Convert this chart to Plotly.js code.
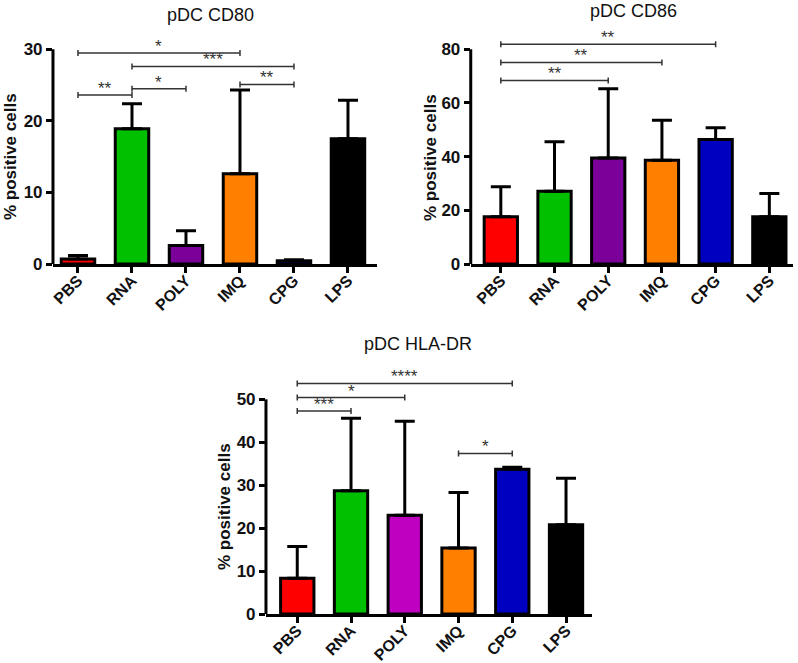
<!DOCTYPE html>
<html>
<head>
<meta charset="utf-8">
<script src="https://cdn.plot.ly/plotly-3.0.1.min.js"></script>
<style>html,body{margin:0;padding:0;background:#fff;}#chart{width:798px;height:663px;}</style>
</head>
<body>
<div id="chart"></div>
<script>
// ---- data ----
var categories = ['PBS', 'RNA', 'POLY', 'IMQ', 'CPG', 'LPS'];

var cd80Values = [0.7, 18.9, 2.6, 12.6, 0.45, 17.5];
var cd80Errors = [0.5, 3.5, 2.05, 11.7, 0.15, 5.4];
var cd80Colors = ['#ff0000', '#00c000', '#7b0099', '#ff8000', '#0000c0', '#000000'];
var cd80Ticks = [0, 10, 20, 30];
var cd80BrFrom = ['PBS', 'RNA', 'RNA', 'PBS', 'IMQ'];
var cd80BrTo = ['IMQ', 'CPG', 'POLY', 'RNA', 'CPG'];
var cd80BrLevel = [29.5, 27.6, 24.5, 23.6, 25.1];
var cd80BrLabel = ['*', '***', '*', '**', '**'];

var cd86Values = [17.6, 27.1, 39.5, 38.7, 46.4, 17.6];
var cd86Errors = [11.2, 18.5, 25.8, 14.9, 4.4, 8.7];
var cd86Colors = ['#ff0000', '#00c000', '#7b0099', '#ff8000', '#0000c0', '#000000'];
var cd86Ticks = [0, 20, 40, 60, 80];
var cd86BrFrom = ['PBS', 'PBS', 'PBS'];
var cd86BrTo = ['CPG', 'IMQ', 'POLY'];
var cd86BrLevel = [81.9, 75.1, 68.4];
var cd86BrLabel = ['**', '**', '**'];

var hlaValues = [8.3, 28.7, 23.0, 15.4, 33.7, 20.8];
var hlaErrors = [7.4, 16.9, 21.9, 12.9, 0.5, 10.8];
var hlaColors = ['#ff0000', '#00c000', '#c000c0', '#ff8000', '#0000c0', '#000000'];
var hlaTicks = [0, 10, 20, 30, 40, 50];
var hlaBrFrom = ['PBS', 'PBS', 'PBS', 'IMQ'];
var hlaBrTo = ['CPG', 'POLY', 'RNA', 'CPG'];
var hlaBrLevel = [53.7, 50.4, 47.3, 37.4];
var hlaBrLabel = ['****', '*', '***', '*'];

var titles = ['pDC CD80', 'pDC CD86', 'pDC HLA-DR'];
var yLabel = '% positive cells';

// ---- build ----
var FONT = 'Liberation Sans, Arial, sans-serif';
var panels = [
  {vals: cd80Values, errs: cd80Errors, cols: cd80Colors, ticks: cd80Ticks, from: cd80BrFrom, to: cd80BrTo, lev: cd80BrLevel, lab: cd80BrLabel,
   xdom: [0.0664, 0.4724], ydom: [0.6018, 0.958], xr: [-0.463, 5.537], yr: [0, 33],
   title: [210 / 798, 1 - 15 / 663], ylab: [10 / 798, 1 - 157 / 663]},
  {vals: cd86Values, errs: cd86Errors, cols: cd86Colors, ticks: cd86Ticks, from: cd86BrFrom, to: cd86BrTo, lev: cd86BrLevel, lab: cd86BrLabel,
   xdom: [0.5899, 0.9937], ydom: [0.6018, 0.958], xr: [-0.56, 5.44], yr: [0, 88],
   title: [633 / 798, 1 - 11 / 663], ylab: [430 / 798, 1 - 158 / 663]},
  {vals: hlaValues, errs: hlaErrors, cols: hlaColors, ticks: hlaTicks, from: hlaBrFrom, to: hlaBrTo, lev: hlaBrLevel, lab: hlaBrLabel,
   xdom: [0.3333, 0.7415], ydom: [0.0739, 0.4495], xr: [-0.582, 5.478], yr: [0, 58],
   title: [418 / 798, 1 - 344 / 663], ylab: [225 / 798, 1 - 507 / 663]}
];

var data = [];
var shapes = [];
var annotations = [];
var layout = {
  width: 798, height: 663,
  margin: {l: 0, r: 0, t: 0, b: 0},
  paper_bgcolor: '#ffffff', plot_bgcolor: 'rgba(0,0,0,0)',
  showlegend: false,
  font: {family: FONT, color: '#111'},
  bargap: 0.38
};

panels.forEach(function (p, i) {
  var sfx = i === 0 ? '' : String(i + 1);
  var xa = 'x' + sfx, ya = 'y' + sfx;
  data.push({
    type: 'bar', x: categories, y: p.vals, xaxis: xa, yaxis: ya,
    width: 0.62,
    marker: {color: p.cols, line: {color: '#000', width: 3}},
    error_y: {type: 'data', symmetric: false, array: p.errs, arrayminus: p.errs.map(function () { return 0; }),
              color: '#000', thickness: 3, width: 10},
    hoverinfo: 'skip'
  });
  layout['xaxis' + sfx] = {
    domain: p.xdom, anchor: ya, type: 'category', range: p.xr,
    showline: true, linecolor: '#000', linewidth: 3,
    ticks: 'outside', ticklen: 6, tickwidth: 3, tickcolor: '#000',
    tickangle: -45, ticklabelstandoff: -8,
    tickfont: {family: FONT, size: 16, color: '#111', weight: 'bold'},
    showgrid: false, zeroline: false, fixedrange: true
  };
  layout['yaxis' + sfx] = {
    domain: p.ydom, anchor: xa, range: p.yr,
    tickmode: 'array', tickvals: p.ticks,
    showline: false, ticks: 'outside', ticklen: 6, tickwidth: 3, tickcolor: '#000',
    tickfont: {family: FONT, size: 17, color: '#111', weight: 'bold'},
    showgrid: false, zeroline: false, fixedrange: true
  };
  // y axis line up to last tick
  shapes.push({type: 'line', xref: xa + ' domain', yref: ya, x0: 0, x1: 0,
               y0: p.ticks[0], y1: p.ticks[p.ticks.length - 1], line: {color: '#000', width: 3}});
  // significance brackets
  for (var k = 0; k < p.from.length; k++) {
    var a = categories.indexOf(p.from[k]), b = categories.indexOf(p.to[k]);
    shapes.push({type: 'line', xref: xa, yref: ya, x0: a, x1: b, y0: p.lev[k], y1: p.lev[k],
                 line: {color: '#333', width: 1.5}});
    [a, b].forEach(function (xx) {
      shapes.push({type: 'line', xref: xa, yref: ya, ysizemode: 'pixel', yanchor: p.lev[k],
                   x0: xx, x1: xx, y0: -3, y1: 3, line: {color: '#333', width: 1.5}});
    });
    annotations.push({xref: xa, yref: ya, x: (a + b) / 2, y: p.lev[k], text: p.lab[k],
                      showarrow: false, yanchor: 'bottom', yshift: -5,
                      font: {family: FONT, size: 17, color: '#333'}});
  }
  annotations.push({xref: 'paper', yref: 'paper', x: p.title[0], y: p.title[1], text: titles[i],
                    showarrow: false, xanchor: 'center', yanchor: 'middle',
                    font: {family: FONT, size: 18, color: '#111'}});
  annotations.push({xref: 'paper', yref: 'paper', x: p.ylab[0], y: p.ylab[1], text: yLabel,
                    showarrow: false, xanchor: 'center', yanchor: 'middle', textangle: -90,
                    font: {family: FONT, size: 17, color: '#111', weight: 'bold'}});
});

layout.shapes = shapes;
layout.annotations = annotations;

Plotly.newPlot('chart', data, layout, {displayModeBar: false, staticPlot: true});
</script>
</body>
</html>
